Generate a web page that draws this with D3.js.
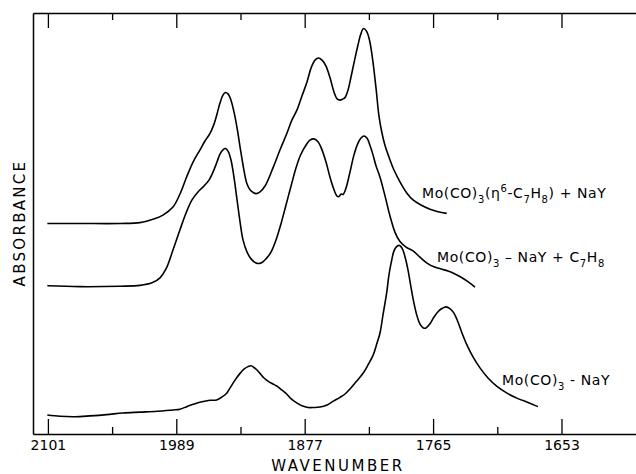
<!DOCTYPE html>
<html>
<head>
<meta charset="utf-8">
<script src="https://cdn.jsdelivr.net/npm/d3@7"></script>
<style>
  body { margin: 0; background: #fff; }
  svg { display: block; }
  text { font-family: "DejaVu Sans", sans-serif; fill: #000; }
</style>
</head>
<body>
<svg id="chart" width="636" height="474"></svg>
<script>
// IR spectra in the carbonyl region; absorbance in arbitrary units, traces offset vertically.

// Mo(CO)3(eta6-C7H8) + NaY
const wnToluene = [2101.5, 2073, 2038, 2020.7, 2009.3, 2000.6, 1991.9, 1985.8, 1979.9, 1974.4, 1968.3, 1964, 1959.6, 1956.1, 1953.5, 1950.9, 1948.3, 1946.1, 1943.9, 1941.3, 1938.7, 1936, 1933.4, 1930.8, 1927.6, 1924.7, 1922.1, 1919.5, 1916, 1911.6, 1904.4, 1898.5, 1892.7, 1888.1, 1883.7, 1879.4, 1875, 1871.5, 1868, 1865, 1861.9, 1858.4, 1854.9, 1851.4, 1848.8, 1846.2, 1843.6, 1841.9, 1839.2, 1836.6, 1833.1, 1830.5, 1828.3, 1825.7, 1823.1, 1820.5, 1817.9, 1814.8, 1812.2, 1809.6, 1807, 1803.5, 1799.1, 1793.9, 1787.8, 1782.5, 1775.6, 1767.7, 1760.7, 1753.1];
const absToluene = [50.0, 50.0, 50.0, 50.2, 51.0, 52.0, 53.9, 57.0, 61.1, 64.6, 67.5, 69.6, 71.4, 73.6, 76.0, 78.6, 80.5, 81.1, 80.8, 79.3, 76.5, 72.7, 68.2, 63.9, 59.6, 58.0, 57.4, 57.1, 57.5, 58.9, 63.4, 67.5, 71.3, 74.6, 77.0, 80.3, 83.6, 86.9, 88.8, 89.3, 88.8, 87.4, 84.6, 81.2, 79.6, 79.3, 79.6, 79.9, 81.7, 84.8, 89.3, 92.4, 94.8, 96.3, 95.7, 93.6, 89.3, 82.2, 75.5, 71.5, 68.6, 65.8, 62.7, 59.9, 57.2, 55.6, 54.4, 53.4, 52.8, 52.4];

// Mo(CO)3-NaY + C7H8
const wnAdded = [2101.5, 2073, 2038, 2020.7, 2010.2, 2003.2, 1998, 1991.9, 1985.8, 1980.5, 1975.3, 1970.1, 1964.8, 1960.5, 1957, 1953.5, 1950.9, 1948.3, 1946.1, 1943.9, 1941.3, 1938.7, 1936, 1933.4, 1930.8, 1927.3, 1923.8, 1919.5, 1915.1, 1910.8, 1906.4, 1902, 1897.7, 1893.3, 1888.9, 1884.6, 1880.2, 1875.9, 1872.4, 1868.9, 1865.4, 1861.9, 1858.4, 1854.9, 1851.4, 1848.8, 1847.1, 1845.3, 1843.6, 1841, 1837.5, 1834, 1830.5, 1827.9, 1825.3, 1822.7, 1820.1, 1817.4, 1814.8, 1811.3, 1806.9, 1802.6, 1798.2, 1793.9, 1788.6, 1782.5, 1776.4, 1770.3, 1764.2, 1758.1, 1752, 1745.9, 1739.8, 1733.7, 1728.4];
const absAdded = [35.2, 35.0, 35.1, 35.3, 35.9, 37.1, 39.2, 43.7, 48.5, 52.5, 55.6, 57.5, 58.9, 60.3, 62.2, 64.6, 66.5, 67.5, 67.8, 67.2, 65.1, 61.0, 55.6, 50.4, 46.1, 43.2, 41.6, 40.6, 40.6, 41.6, 43.2, 46.1, 49.9, 54.4, 58.9, 63.2, 66.5, 68.6, 69.8, 70.1, 69.4, 67.5, 64.6, 61.0, 58.0, 56.5, 56.4, 57.0, 56.9, 58.4, 62.2, 66.3, 69.1, 70.3, 70.8, 70.3, 68.6, 66.3, 63.7, 61.0, 56.5, 51.8, 47.9, 45.7, 44.4, 43.5, 42.0, 40.6, 39.7, 39.2, 38.7, 38.0, 37.1, 36.0, 34.9];

// Mo(CO)3-NaY
const wnBare = [2101.5, 2090.4, 2077.4, 2064.3, 2049.8, 2035.5, 2020.7, 2005.8, 1991.6, 1985.8, 1979.9, 1972.7, 1965.5, 1959.6, 1953.8, 1949.1, 1945, 1942.2, 1937.8, 1933.4, 1930, 1926.5, 1923.8, 1921.2, 1918.6, 1916, 1912.5, 1908.7, 1905.5, 1901.4, 1897.7, 1892.7, 1889, 1884, 1879.4, 1874.1, 1868.9, 1863.7, 1857.5, 1852, 1846.2, 1841.8, 1837.5, 1832.2, 1825.9, 1821.8, 1817.2, 1813.9, 1811.3, 1808.7, 1805.5, 1803.5, 1801.1, 1799.1, 1796.8, 1794.7, 1793, 1791.3, 1789.5, 1786.9, 1784.3, 1781.7, 1779, 1776.4, 1773.5, 1771.2, 1767.7, 1764.2, 1760.5, 1757.3, 1753.8, 1750.3, 1746.8, 1743.3, 1739.8, 1735.4, 1730.2, 1724.1, 1717.1, 1709.3, 1700.5, 1691, 1682.2, 1673.5];
const absBare = [4.5, 4.2, 4.1, 4.3, 4.6, 5.0, 5.2, 5.4, 5.7, 5.9, 6.5, 7.2, 7.7, 8.0, 8.1, 8.8, 9.7, 10.9, 12.8, 14.4, 15.4, 16.0, 16.2, 15.8, 15.2, 14.4, 13.3, 12.5, 12.0, 11.4, 10.6, 9.5, 8.4, 7.4, 6.7, 6.3, 6.3, 6.4, 6.9, 7.8, 8.7, 9.5, 10.7, 12.4, 14.5, 16.4, 18.8, 21.6, 24.0, 28.3, 33.5, 37.8, 41.3, 43.5, 44.5, 44.8, 44.5, 43.7, 42.1, 39.0, 34.9, 31.1, 28.0, 26.1, 25.2, 25.2, 26.2, 27.8, 29.1, 29.8, 30.2, 29.8, 28.7, 26.6, 24.0, 21.1, 18.3, 15.7, 13.3, 11.3, 9.7, 8.4, 7.5, 6.5];

// Axis ticks
const majorTicks = [2101, 1989, 1877, 1765, 1653];
const minorTicks = [2045, 1933, 1821, 1709];

// Trace labels: [text, position] pieces, position "sub" / "sup" / "" (baseline)
const labelToluene = [["Mo(CO)", ""], ["3", "sub"], ["(η", ""], ["6", "sup"], ["-C", ""], ["7", "sub"], ["H", ""], ["8", "sub"], [") + NaY", ""]];
const labelAdded = [["Mo(CO)", ""], ["3", "sub"], [" – NaY  +  C", ""], ["7", "sub"], ["H", ""], ["8", "sub"]];
const labelBare = [["Mo(CO)", ""], ["3", "sub"], [" - NaY", ""]];
// Anchor of each label in data units (wavenumber, absorbance)
const labelAnchorWn = [1774.7, 1761.6, 1704.9];
const labelAnchorAbs = [56.1, 40.9, 11.6];

const svg = d3.select("#chart");
const W = 636;
const frameLeft = 33, frameTop = 13, frameBottom = 434;

const x = d3.scaleLinear().domain([2114, 1588]).range([frameLeft, W]);
const y = d3.scaleLinear().domain([0, 100]).range([frameBottom, frameTop]);

// Frame: bottom axis with labelled major ticks pointing up
const axisB = svg.append("g").attr("transform", `translate(0,${frameBottom})`)
  .call(d3.axisBottom(x).tickValues(majorTicks).tickSize(-15).tickSizeOuter(0).tickPadding(6).tickFormat(d3.format("d")));
axisB.attr("font-family", null).attr("font-size", null);
axisB.selectAll("text").style("font-size", "14px");
svg.append("g").attr("transform", `translate(0,${frameBottom})`)
  .call(d3.axisBottom(x).tickValues(minorTicks).tickSize(-7).tickSizeOuter(0).tickFormat(""))
  .select(".domain").remove();

// Top edge with ticks pointing down
svg.append("g").attr("transform", `translate(0,${frameTop})`)
  .call(d3.axisTop(x).tickValues(majorTicks).tickSize(-15).tickSizeOuter(0).tickFormat(""));
svg.append("g").attr("transform", `translate(0,${frameTop})`)
  .call(d3.axisTop(x).tickValues(minorTicks).tickSize(-7).tickSizeOuter(0).tickFormat(""))
  .select(".domain").remove();

// Left edge, no ticks
svg.append("g").attr("transform", `translate(${frameLeft},0)`)
  .call(d3.axisLeft(y).tickValues([]).tickSizeOuter(0));

svg.selectAll(".domain").attr("stroke", "#000").attr("stroke-width", 1.5);
svg.selectAll(".tick line").attr("stroke", "#000").attr("stroke-width", 1.3);

// Axis titles
svg.append("text")
  .attr("x", 338).attr("y", 471)
  .attr("text-anchor", "middle")
  .style("font-size", "15px").style("letter-spacing", "2.5px")
  .text("WAVENUMBER");
svg.append("text")
  .attr("transform", "translate(25,223) rotate(-90)")
  .attr("text-anchor", "middle")
  .style("font-size", "15px").style("letter-spacing", "2.3px")
  .text("ABSORBANCE");

// Spectra
const traces = [
  { wn: wnToluene, ab: absToluene, label: labelToluene },
  { wn: wnAdded, ab: absAdded, label: labelAdded },
  { wn: wnBare, ab: absBare, label: labelBare }
];

const line = d3.line()
  .x(d => x(d[0]))
  .y(d => y(d[1]))
  .curve(d3.curveCatmullRom.alpha(0.5));

traces.forEach((t, i) => {
  const pts = t.wn.map((w, j) => [w, t.ab[j]]);
  svg.append("path")
    .datum(pts)
    .attr("d", line)
    .attr("fill", "none")
    .attr("stroke", "#000")
    .attr("stroke-width", 1.6)
    .attr("stroke-linejoin", "round");

  const txt = svg.append("text")
    .attr("x", x(labelAnchorWn[i]))
    .attr("y", y(labelAnchorAbs[i]))
    .style("font-size", "14px")
    .style("letter-spacing", "0.6px");
  let shift = 0;
  t.label.forEach(([s, pos]) => {
    const target = pos === "sub" ? 5 : pos === "sup" ? -6 : 0;
    txt.append("tspan")
      .attr("dy", target - shift)
      .style("font-size", pos ? "10px" : "14px")
      .text(s);
    shift = target;
  });
});
</script>
</body>
</html>
